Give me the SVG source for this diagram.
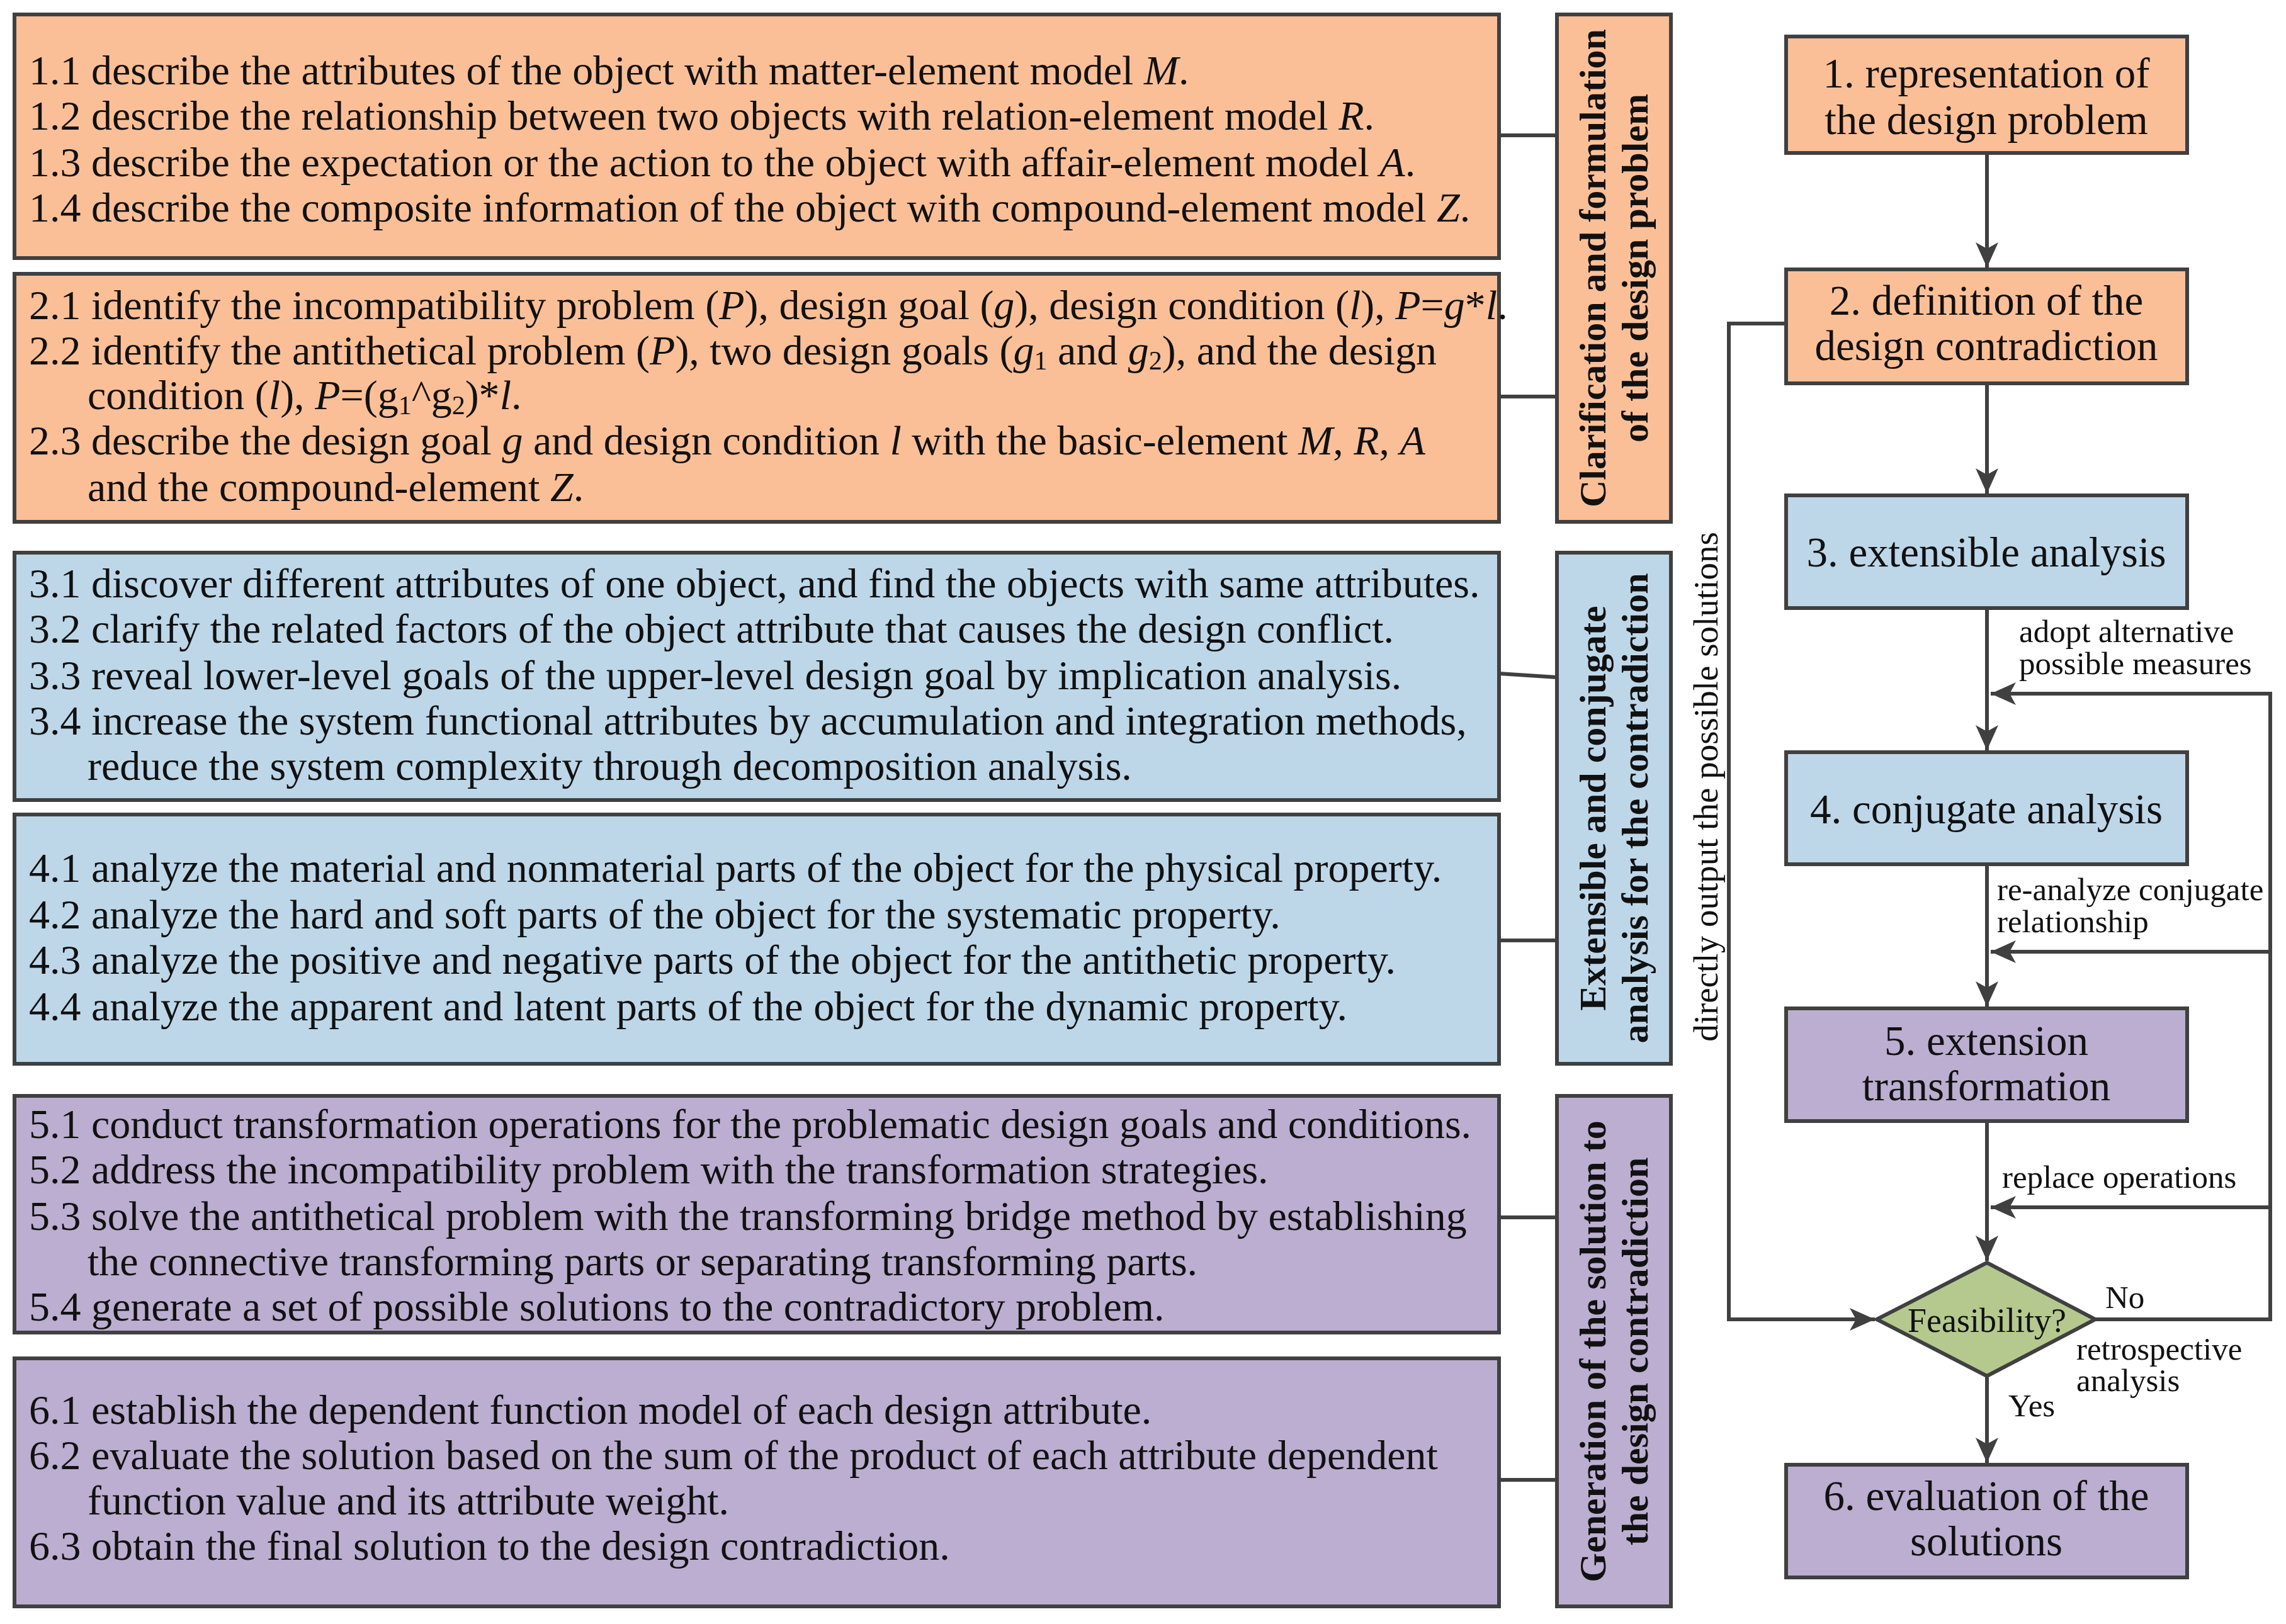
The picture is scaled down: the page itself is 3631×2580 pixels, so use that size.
<svg xmlns="http://www.w3.org/2000/svg" width="3631" height="2580" viewBox="0 0 3631 2580">
<style>
.b{stroke:#404040;stroke-width:6}
.o{fill:#FBBF97}.bl{fill:#BDD7E9}.p{fill:#BBAED0}.g{fill:#B5C98E}
text{font-family:"Liberation Serif","DejaVu Serif",serif;fill:#111}
.t{font-size:66px}
.s{font-weight:bold;font-size:60px;text-anchor:middle}
.r{font-size:67px;text-anchor:middle}
.l{font-size:51px}
.c{fill:none;stroke:#404040;stroke-width:6}
.i{font-style:italic}
.sub{font-size:42px}
</style>
<defs>
<marker id="a" markerUnits="userSpaceOnUse" markerWidth="44" markerHeight="36" refX="40" refY="18" orient="auto">
<path d="M0,0 L40,18 L0,36 L10,18 Z" fill="#404040"/>
</marker>
</defs>
<rect width="3631" height="2580" fill="#fff"/>
<g id="box1"><rect class="b o" x="23" y="23" width="2358" height="387"/>
<text class="t" x="46" y="134">1.1 describe the attributes of the object with matter-element model <tspan class="i">M</tspan>.</text>
<text class="t" x="46" y="206">1.2 describe the relationship between two objects with relation-element model <tspan class="i">R</tspan>.</text>
<text class="t" x="46" y="280">1.3 describe the expectation or the action to the object with affair-element model <tspan class="i">A</tspan>.</text>
<text class="t" x="46" y="352">1.4 describe the composite information of the object with compound-element model <tspan class="i">Z</tspan>.</text>
</g>
<g id="box2"><rect class="b o" x="23" y="435" width="2358" height="394"/>
<text class="t" x="46" y="507">2.1 identify the incompatibility problem (<tspan class="i">P</tspan>), design goal (<tspan class="i">g</tspan>), design condition (<tspan class="i">l</tspan>), <tspan class="i">P</tspan>=<tspan class="i">g</tspan>*<tspan class="i">l</tspan>.</text>
<text class="t" x="46" y="579">2.2 identify the antithetical problem (<tspan class="i">P</tspan>), two design goals (<tspan class="i">g</tspan><tspan class="sub" dy="8">1</tspan><tspan dy="-8"> and </tspan><tspan class="i">g</tspan><tspan class="sub" dy="8">2</tspan><tspan dy="-8">), and the design</tspan></text>
<text class="t" x="139" y="650">condition (<tspan class="i">l</tspan>), <tspan class="i">P</tspan>=(g<tspan class="sub" dy="8">1</tspan><tspan dy="-8">^g</tspan><tspan class="sub" dy="8">2</tspan><tspan dy="-8">)*</tspan><tspan class="i">l</tspan>.</text>
<text class="t" x="46" y="722">2.3 describe the design goal <tspan class="i">g</tspan> and design condition <tspan class="i">l</tspan> with the basic-element <tspan class="i">M</tspan>, <tspan class="i">R</tspan>, <tspan class="i">A</tspan></text>
<text class="t" x="139" y="796">and the compound-element <tspan class="i">Z</tspan>.</text>
</g>
<g id="box3"><rect class="b bl" x="23" y="878" width="2358" height="393"/>
<text class="t" x="46" y="949">3.1 discover different attributes of one object, and find the objects with same attributes.</text>
<text class="t" x="46" y="1021">3.2 clarify the related factors of the object attribute that causes the design conflict.</text>
<text class="t" x="46" y="1095">3.3 reveal lower-level goals of the upper-level design goal by implication analysis.</text>
<text class="t" x="46" y="1167">3.4 increase the system functional attributes by accumulation and integration methods,</text>
<text class="t" x="139" y="1239">reduce the system complexity through decomposition analysis.</text>
</g>
<g id="box4"><rect class="b bl" x="23" y="1294" width="2358" height="396"/>
<text class="t" x="46" y="1401">4.1 analyze the material and nonmaterial parts of the object for the physical property.</text>
<text class="t" x="46" y="1475">4.2 analyze the hard and soft parts of the object for the systematic property.</text>
<text class="t" x="46" y="1547">4.3 analyze the positive and negative parts of the object for the antithetic property.</text>
<text class="t" x="46" y="1621">4.4 analyze the apparent and latent parts of the object for the dynamic property.</text>
</g>
<g id="box5"><rect class="b p" x="23" y="1741" width="2358" height="376"/>
<text class="t" x="46" y="1808">5.1 conduct transformation operations for the problematic design goals and conditions.</text>
<text class="t" x="46" y="1880">5.2 address the incompatibility problem with the transformation strategies.</text>
<text class="t" x="46" y="1954">5.3 solve the antithetical problem with the transforming bridge method by establishing</text>
<text class="t" x="139" y="2026">the connective transforming parts or separating transforming parts.</text>
<text class="t" x="46" y="2098">5.4 generate a set of possible solutions to the contradictory problem.</text>
</g>
<g id="box6"><rect class="b p" x="23" y="2158" width="2358" height="394"/>
<text class="t" x="46" y="2262">6.1 establish the dependent function model of each design attribute.</text>
<text class="t" x="46" y="2334">6.2 evaluate the solution based on the sum of the product of each attribute dependent</text>
<text class="t" x="139" y="2406">function value and its attribute weight.</text>
<text class="t" x="46" y="2478">6.3 obtain the final solution to the design contradiction.</text>
</g>
<g id="sideA"><rect class="b o" x="2473" y="23" width="181" height="806"/>
<text class="s" transform="translate(2550,426) rotate(-90)">Clarification and formulation</text>
<text class="s" transform="translate(2617,426) rotate(-90)">of the design problem</text></g>
<g id="sideB"><rect class="b bl" x="2473" y="878" width="181" height="812"/>
<text class="s" transform="translate(2550,1284) rotate(-90)">Extensible and conjugate</text>
<text class="s" transform="translate(2617,1284) rotate(-90)">analysis for the contradiction</text></g>
<g id="sideC"><rect class="b p" x="2473" y="1741" width="181" height="811"/>
<text class="s" transform="translate(2550,2147) rotate(-90)">Generation of the solution to</text>
<text class="s" transform="translate(2617,2147) rotate(-90)">the design contradiction</text></g>
<g id="step1"><rect class="b o" x="2837" y="58" width="637" height="185"/>
<text class="r" x="3155" y="139">1. representation of</text><text class="r" x="3155" y="213">the design problem</text></g>
<g id="step2"><rect class="b o" x="2837" y="428" width="637" height="181"/>
<text class="r" x="3155" y="500">2. definition of the</text><text class="r" x="3155" y="572">design contradiction</text></g>
<g id="step3"><rect class="b bl" x="2837" y="787" width="637" height="179"/>
<text class="r" x="3155" y="900">3. extensible analysis</text></g>
<g id="step4"><rect class="b bl" x="2837" y="1195" width="637" height="178"/>
<text class="r" x="3155" y="1308">4. conjugate analysis</text></g>
<g id="step5"><rect class="b p" x="2837" y="1602" width="637" height="179"/>
<text class="r" x="3155" y="1676">5. extension</text><text class="r" x="3155" y="1748">transformation</text></g>
<g id="decision"><polygon class="b g" points="3156,2006 3328,2096 3156,2186 2981,2096"/>
<text x="3156" y="2116" style="font-size:54px;text-anchor:middle">Feasibility?</text></g>
<g id="step6"><rect class="b p" x="2837" y="2327" width="637" height="179"/>
<text class="r" x="3155" y="2399">6. evaluation of the</text><text class="r" x="3155" y="2471">solutions</text></g>
<g id="connectors">
<line class="c" x1="2381" y1="215" x2="2473" y2="215"/>
<line class="c" x1="2381" y1="630" x2="2473" y2="630"/>
<line class="c" x1="2381" y1="1070" x2="2473" y2="1076"/>
<line class="c" x1="2381" y1="1494" x2="2473" y2="1494"/>
<line class="c" x1="2381" y1="1934" x2="2473" y2="1934"/>
<line class="c" x1="2381" y1="2351" x2="2473" y2="2351"/>
<line class="c" x1="3156" y1="243" x2="3156" y2="425" marker-end="url(#a)"/>
<line class="c" x1="3156" y1="609" x2="3156" y2="784" marker-end="url(#a)"/>
<line class="c" x1="3156" y1="966" x2="3156" y2="1192" marker-end="url(#a)"/>
<line class="c" x1="3156" y1="1373" x2="3156" y2="1599" marker-end="url(#a)"/>
<line class="c" x1="3156" y1="1781" x2="3156" y2="2003" marker-end="url(#a)"/>
<line class="c" x1="3156" y1="2186" x2="3156" y2="2324" marker-end="url(#a)"/>
<polyline class="c" points="3328,2096 3606,2096 3606,1102 3162,1102" marker-end="url(#a)"/>
<line class="c" x1="3606" y1="1512" x2="3162" y2="1512" marker-end="url(#a)"/>
<line class="c" x1="3606" y1="1918" x2="3162" y2="1918" marker-end="url(#a)"/>
<polyline class="c" points="2837,514 2746,514 2746,2096 2978,2096" marker-end="url(#a)"/>
</g>
<g id="labels">
<text class="l" transform="translate(2728,1250) rotate(-90)" text-anchor="middle" style="font-size:55px">directly output the possible solutions</text>
<text class="l" x="3207" y="1020">adopt alternative</text>
<text class="l" x="3207" y="1071">possible measures</text>
<text class="l" x="3172" y="1430">re-analyze conjugate</text>
<text class="l" x="3172" y="1481">relationship</text>
<text class="l" x="3180" y="1887">replace operations</text>
<text class="l" x="3344" y="2078">No</text>
<text class="l" x="3298" y="2160">retrospective</text>
<text class="l" x="3298" y="2210">analysis</text>
<text class="l" x="3190" y="2250">Yes</text>
</g>
</svg>
